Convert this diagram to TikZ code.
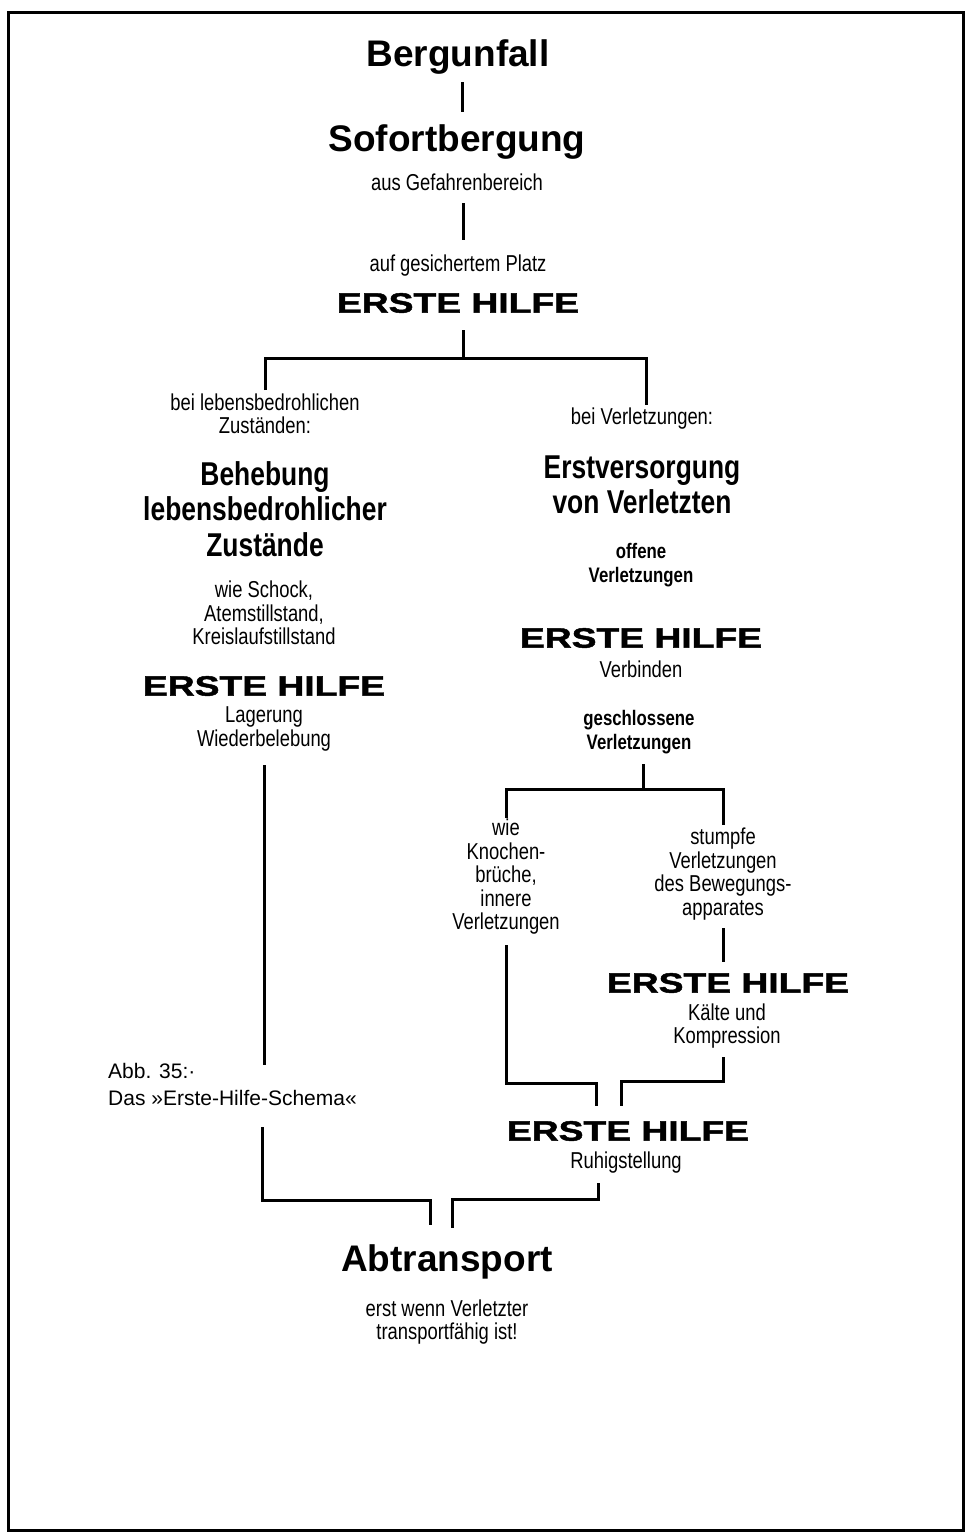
\documentclass[tikz,border=0pt]{standalone}
\usepackage{fontspec}
\setmainfont{Liberation Sans}
\newfontfamily\condfont[FakeStretch=0.8]{Liberation Sans}
\newfontfamily\widefont[FakeStretch=1.33,BoldFeatures={FakeBold=1.6}]{Liberation Sans}
\begin{document}
\begin{tikzpicture}[x=1pt,y=-1pt,
  ln/.style={line width=3pt},
  big/.style={font=\bfseries\fontsize{37}{40}\selectfont, inner sep=0},
  sm/.style={font=\condfont\fontsize{23}{23.5}\selectfont, inner sep=0, align=center},
  smb/.style={font=\condfont\bfseries\fontsize{21}{24}\selectfont, inner sep=0, align=center},
  head/.style={font=\condfont\bfseries\fontsize{33}{35.5}\selectfont, inner sep=0, align=center},
  eh/.style={font=\widefont\bfseries\fontsize{28}{30}\selectfont, inner sep=0},
  captext/.style={font=\fontsize{21}{27}\selectfont, inner sep=0, align=left}]
\useasboundingbox (0,0) rectangle (969,1534);
\draw[ln] (8,12) rectangle (963,1530);

% top chain
\node[big] (bergunfall) at (458,57) {Bergunfall};
\node[big] (sofort) at (457,142) {Sofortbergung};
\node[sm] (gefahr) at (457,182) {aus Gefahrenbereich};
\node[sm] (platz) at (458,266) {auf gesichertem Platz};
\node[eh] (eh1) at (458,303) {ERSTE HILFE};
\coordinate (a1) at (462,82); \coordinate (a2) at (462,112);
\coordinate (b1) at (463,203); \coordinate (b2) at (463,240);
\draw[ln] (a1) -- (a2);
\draw[ln] (b1) -- (b2);

% first branch
\coordinate (c0) at (463,330); \coordinate (cj) at (463,358);
\coordinate (cl) at (265,390); \coordinate (cr) at (646,405);
\draw[ln] (c0) -- (cj);
\draw[ln] (cl) |- (cj) -| (cr);

% left column
\node[sm] (lebens) at (265,414) {bei lebensbedrohlichen\\Zuständen:};
\node[head] (behebung) at (265,509) {Behebung\\lebensbedrohlicher\\Zustände};
\node[sm] (schock) at (264,613) {wie Schock,\\Atemstillstand,\\Kreislaufstillstand};
\node[eh] (eh3) at (264,686) {ERSTE HILFE};
\node[sm] (lagerung) at (264,729) {Lagerung\\Wiederbelebung};
\coordinate (d1) at (264,765); \coordinate (d2) at (264,1065);
\draw[ln] (d1) -- (d2);
\node[captext, anchor=west] (caption) at (108,1084) {Abb. 35:·\\Das »Erste-Hilfe-Schema«};

% right column
\node[sm] (verl) at (642,419) {bei Verletzungen:};
\node[head] (erstv) at (642,485) {Erstversorgung\\von Verletzten};
\node[smb] (offene) at (641,565) {offene\\Verletzungen};
\node[eh] (eh2) at (641,638) {ERSTE HILFE};
\node[sm] (verbinden) at (641,669) {Verbinden};
\node[smb] (geschl) at (639,732) {geschlossene\\Verletzungen};
\coordinate (e0) at (643,764); \coordinate (ej) at (643,789);
\coordinate (el) at (506,818); \coordinate (er) at (723,825);
\draw[ln] (e0) -- (ej);
\draw[ln] (el) |- (ej) -| (er);

\node[sm] (knochen) at (506,877) {wie\\Knochen-\\brüche,\\innere\\Verletzungen};
\node[sm] (stumpfe) at (723,874) {stumpfe\\Verletzungen\\des Bewegungs-\\apparates};
\coordinate (f1) at (723,928); \coordinate (f2) at (723,962);
\draw[ln] (f1) -- (f2);
\node[eh] (eh4) at (728,983) {ERSTE HILFE};
\node[sm] (kaelte) at (727,1026) {Kälte und\\Kompression};

\coordinate (g1) at (506,945); \coordinate (g2) at (596,1083); \coordinate (g3) at (596,1106);
\draw[ln] (g1) |- (g2) -- (g3);
\coordinate (h1) at (723,1057); \coordinate (h2) at (621,1081); \coordinate (h3) at (621,1106);
\draw[ln] (h1) |- (h2) -- (h3);
\node[eh] (eh5) at (628,1131) {ERSTE HILFE};
\node[sm] (ruhig) at (626,1163) {Ruhigstellung};

% bottom merge
\coordinate (i1) at (262,1127); \coordinate (i2) at (430,1200); \coordinate (i3) at (430,1225);
\draw[ln] (i1) |- (i2) -- (i3);
\coordinate (j1) at (598,1183); \coordinate (j2) at (452,1199); \coordinate (j3) at (452,1228);
\draw[ln] (j1) |- (j2) -- (j3);

\node[big] (abtr) at (447,1262) {Abtransport};
\node[sm] (erst) at (447,1322) {erst wenn Verletzter\\transportfähig ist!};
\end{tikzpicture}
\end{document}
